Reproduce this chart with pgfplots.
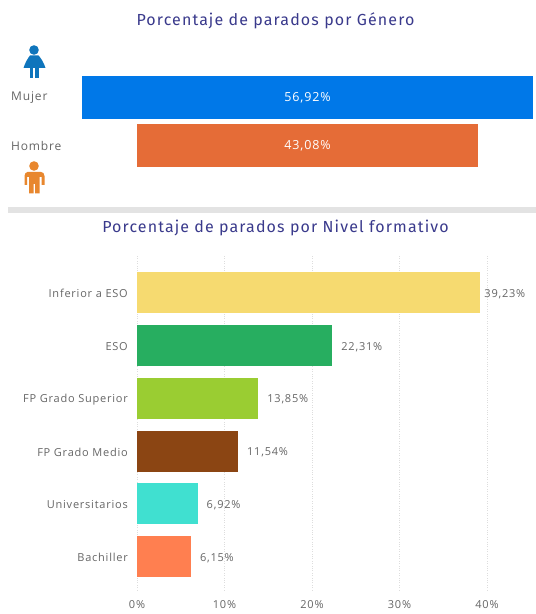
\documentclass[border=0pt]{standalone}
\usepackage{fontspec}
\setmainfont[LetterSpace=7]{Open Sans}
\newfontfamily\titlefont[LetterSpace=7]{Fira Sans}
\usepackage{pgfplots}
\pgfplotsset{compat=1.18}
\definecolor{ttl}{HTML}{3A3A8C}
\definecolor{lbl}{HTML}{666666}
\definecolor{grd}{HTML}{DDDDDD}
\definecolor{wicon}{HTML}{0F75BC}
\definecolor{micon}{HTML}{E8872E}
\begin{document}
\begin{tikzpicture}[x=1pt,y=1pt]
\path[use as bounding box,fill=white] (0,0) rectangle (536,614);
% titles and separator
\node[font=\titlefont\fontsize{16}{18}\selectfont,text=ttl,inner sep=0pt] at (275.5,593) {Porcentaje de parados por Género};
\node[font=\titlefont\fontsize{16}{18}\selectfont,text=ttl,inner sep=0pt] at (275.5,386) {Porcentaje de parados por Nivel formativo};
\fill[black!11] (8,401) rectangle (536,407);
% woman icon
\begin{scope}[shift={(0,614)},yscale=-1]
\fill[wicon] (34,50) circle (4.8);
\fill[wicon] (30,55.5) -- (38.5,55.5) .. controls (41,58) and (44,63) .. (45.5,68) -- (23.5,68) .. controls (25,63) and (28,58) .. (30,55.5) -- cycle;
\fill[wicon] (30,68) rectangle (33.3,78);
\fill[wicon] (35.2,68) rectangle (38.5,78);
% man icon
\fill[micon] (34,166) circle (4.8);
\fill[micon] (27.5,172) -- (41,172) .. controls (43,172) and (44.5,173.5) .. (44.5,176) -- (44.5,185) -- (41.5,185) -- (41.5,177) -- (39.5,177) -- (39.5,193.5) -- (35,193.5) -- (35,184) -- (33.5,184) -- (33.5,193.5) -- (29,193.5) -- (29,177) -- (27,177) -- (27,185) -- (24.5,185) -- (24.5,176) .. controls (24.5,173.5) and (26,172) .. (27.5,172) -- cycle;
\end{scope}
% gender funnel
\begin{axis}[
  at={(82pt,441pt)},anchor=south west,
  scale only axis,width=451pt,height=103pt,
  xbar stacked,bar width=42.7pt,
  xmin=0,xmax=56.92,ymin=-0.577,ymax=1.569,
  axis line style={draw=none},xtick=\empty,
  ytick={0,1},yticklabels={Hombre,Mujer},
  major tick length=0pt,
  yticklabel style={font=\fontsize{12}{14}\selectfont,text=lbl,inner sep=0pt,text width=60pt,align=left,anchor=west,xshift=-71pt,yshift=-0.5pt},
  clip=false,
]
\addplot[draw=none,fill=none] coordinates {(0,1) (6.92,0)};
\addplot[draw=none,fill={rgb,255:red,0;green,120;blue,232},
  point meta=explicit symbolic,nodes near coords,
  nodes near coords style={font=\fontsize{12.5}{14}\selectfont,text=white}]
  coordinates {(56.92,1) [56,92\%] (0,0) []};
\addplot[draw=none,fill={rgb,255:red,229;green,108;blue,55},
  point meta=explicit symbolic,nodes near coords,
  nodes near coords style={font=\fontsize{12.5}{14}\selectfont,text=white}]
  coordinates {(0,1) [] (43.08,0) [43,08\%]};
\end{axis}
% education bars
\begin{axis}[
  at={(137pt,24pt)},anchor=south west,
  scale only axis,width=399pt,height=335pt,
  xbar,bar width=41pt,bar shift=0pt,
  xmin=0,xmax=45.6,ymin=-0.63,ymax=5.71,
  axis line style={draw=none},
  xtick={0,10,20,30,40},xticklabels={0\%,10\%,20\%,30\%,40\%},
  ytick={0,1,2,3,4,5},
  yticklabels={Bachiller,Universitarios,FP Grado Medio,FP Grado Superior,ESO,Inferior a ESO},
  major tick length=0pt,
  xmajorgrids,
  major grid style={draw=grd,dotted,line width=0.7pt},
  ticklabel style={font=\fontsize{11}{13}\selectfont,text=lbl},
  yticklabel style={inner sep=0pt,xshift=-9pt,yshift=-1pt},
  xticklabel style={inner sep=0pt,yshift=-10pt},
  clip=false,
  nodes near coords style={font=\fontsize{11}{13}\selectfont,text=lbl,inner sep=0pt,anchor=west,xshift=9pt,yshift=-1.5pt},
]
\addplot[draw=none,fill={rgb,255:red,246;green,218;blue,112},nodes near coords={39,23\%},nodes near coords style={xshift=-5pt}] coordinates {(39.23,5)};
\addplot[draw=none,fill={rgb,255:red,39;green,174;blue,96},nodes near coords={22,31\%}] coordinates {(22.31,4)};
\addplot[draw=none,fill={rgb,255:red,154;green,205;blue,50},nodes near coords={13,85\%}] coordinates {(13.85,3)};
\addplot[draw=none,fill={rgb,255:red,139;green,69;blue,19},nodes near coords={11,54\%}] coordinates {(11.54,2)};
\addplot[draw=none,fill={rgb,255:red,64;green,224;blue,208},nodes near coords={6,92\%}] coordinates {(6.92,1)};
\addplot[draw=none,fill={rgb,255:red,255;green,127;blue,80},nodes near coords={6,15\%}] coordinates {(6.15,0)};
\end{axis}
\end{tikzpicture}
\end{document}
